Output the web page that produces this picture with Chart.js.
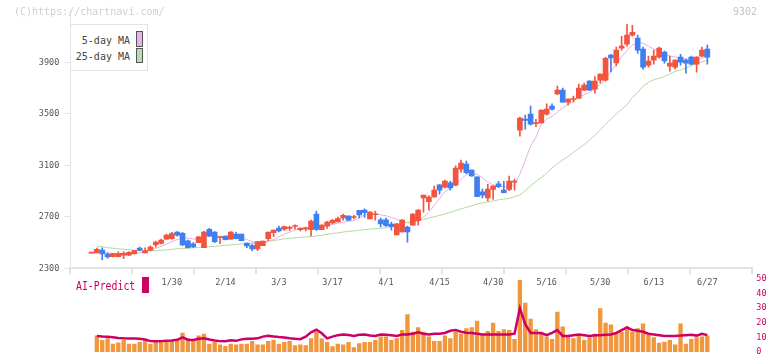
<!DOCTYPE html>
<html>
<head>
<meta charset="utf-8">
<script src="https://cdn.jsdelivr.net/npm/chart.js@4.4.1/dist/chart.umd.min.js"></script>
<style>
  html, body { margin: 0; padding: 0; background: #fff; }
  #wrap { position: relative; width: 772px; height: 361px; overflow: hidden; background: #fff; }
  canvas { position: absolute; left: 0; }
  .t { position: absolute; font-family: 'DejaVu Sans Mono', monospace; white-space: nowrap; }
</style>
</head>
<body>
<div id="wrap">
  <canvas id="main" width="772" height="300" style="top:0"></canvas>
  <canvas id="sub" width="772" height="91" style="top:270px"></canvas>
  <div class="t" style="left:14px;top:7px;font-size:10px;line-height:10px;color:#cfcfcf">(C)https://chartnavi.com/</div>
  <div class="t" style="right:15px;top:7px;font-size:10px;line-height:10px;color:#c4c4c4">9302</div>
  <div style="position:absolute;left:70px;top:24px;width:76px;height:45px;border:1px solid #e2e2e2;background:#fff"></div>
  <div class="t" style="right:642px;top:36px;font-size:10px;line-height:10px;color:#444">5-day MA</div>
  <div class="t" style="right:642px;top:51.5px;font-size:10px;line-height:10px;color:#444">25-day MA</div>
  <div style="position:absolute;left:136px;top:31px;width:5px;height:14px;border:1px solid #555;background:#e8b4e8"></div>
  <div style="position:absolute;left:136px;top:48px;width:5px;height:13px;border:1px solid #555;background:#b8dcb0"></div>
  <div class="t" style="left:75.7px;top:280.3px;font-size:12px;line-height:12px;color:#cc0066;transform:scaleX(0.82);transform-origin:left top">AI-Predict</div>
  <div style="position:absolute;left:142px;top:277px;width:7px;height:16px;background:#cc0066"></div>
</div>
<script>
// ---- data ----
const opens  = [2418,2419,2442,2411,2390,2390,2403,2403,2413,2458,2419,2440,2481,2494,2527,2530,2582,2572,2514,2491,2499,2460,2603,2582,2538,2551,2527,2566,2566,2496,2476,2450,2476,2530,2577,2613,2605,2610,2625,2600,2606,2600,2721,2600,2628,2652,2660,2691,2706,2695,2750,2753,2683,2716,2677,2677,2644,2559,2582,2621,2636,2670,2848,2817,2854,2949,2931,2965,2947,3071,3110,3063,3011,2895,2848,2913,2957,2908,2913,2970,3374,3459,3498,3425,3430,3498,3560,3656,3685,3592,3612,3623,3685,3755,3693,3762,3762,3957,3897,4011,4042,4112,4089,4004,3879,3918,3941,3980,3872,3864,3941,3918,3941,3887,3949,4004];
const highs  = [2420,2458,2460,2421,2416,2428,2429,2430,2440,2465,2460,2475,2512,2528,2566,2580,2585,2580,2520,2500,2547,2590,2610,2585,2541,2553,2585,2582,2566,2496,2489,2510,2512,2582,2600,2628,2628,2628,2638,2613,2620,2675,2745,2640,2665,2680,2698,2721,2710,2711,2750,2763,2740,2745,2691,2690,2660,2650,2678,2628,2725,2756,2869,2864,2939,2950,2985,2978,3097,3141,3133,3066,3011,2916,2952,2942,2976,2976,3017,2994,3475,3491,3560,3457,3532,3578,3578,3716,3701,3618,3638,3732,3739,3760,3790,3812,3940,3964,4019,4104,4197,4189,4112,4019,3949,3996,4019,3988,3949,3920,3964,3925,3949,3945,4019,4035];
const lows   = [2418,2419,2365,2378,2388,2388,2375,2398,2410,2435,2419,2435,2465,2490,2527,2527,2550,2475,2458,2460,2499,2460,2545,2500,2491,2520,2525,2528,2512,2460,2437,2437,2476,2514,2545,2582,2595,2595,2605,2590,2590,2551,2595,2600,2610,2645,2660,2675,2672,2683,2691,2696,2683,2675,2621,2625,2597,2559,2580,2504,2636,2636,2737,2753,2850,2877,2925,2908,2940,3048,3035,3015,2856,2848,2823,2836,2926,2885,2903,2908,3327,3382,3415,3400,3428,3490,3530,3650,3590,3568,3592,3620,3680,3680,3662,3740,3755,3827,3874,3996,4027,4104,3971,3848,3864,3887,3933,3895,3833,3848,3879,3817,3880,3825,3945,3887];
const closes = [2420,2448,2411,2388,2414,2415,2417,2424,2437,2440,2437,2465,2504,2520,2558,2569,2558,2481,2460,2468,2545,2582,2551,2507,2541,2522,2582,2530,2514,2473,2450,2507,2512,2582,2597,2590,2625,2615,2630,2613,2610,2667,2603,2636,2660,2673,2686,2711,2675,2700,2714,2732,2737,2720,2644,2631,2623,2646,2675,2582,2721,2753,2869,2854,2908,2908,2978,2924,3079,3118,3043,3019,2856,2869,2916,2939,2934,2887,2978,2975,3467,3449,3420,3430,3529,3537,3537,3685,3592,3615,3616,3701,3724,3685,3755,3809,3933,3936,3996,4027,4112,4135,3996,3864,3911,3949,4011,3911,3895,3918,3903,3895,3887,3941,3996,3941];
const ma5    = [null,null,2424,2420,2416,2414,2413,2413,2415,2420,2428,2440,2455,2470,2489,2508,2524,2535,2535,2528,2525,2535,2550,2552,2548,2545,2543,2540,2535,2525,2507,2496,2498,2507,2525,2545,2564,2582,2597,2608,2613,2617,2623,2630,2638,2642,2650,2658,2665,2672,2690,2715,2720,2720,2716,2708,2695,2680,2665,2654,2652,2668,2700,2735,2790,2840,2895,2920,2950,2990,3030,3035,3030,3005,2970,2948,2938,2934,2935,2950,3030,3140,3250,3320,3420,3460,3480,3515,3545,3575,3600,3630,3650,3665,3695,3730,3770,3830,3885,3945,3995,4035,4055,4050,4025,4005,3985,3965,3950,3942,3935,3930,3924,3925,3935,3944];
const ma25   = [null,2468,2468,2460,2456,2452,2448,2445,2440,2437,2437,2437,2437,2440,2443,2448,2452,2454,2456,2460,2462,2464,2468,2470,2474,2479,2482,2486,2489,2493,2496,2500,2504,2510,2516,2522,2529,2533,2537,2541,2543,2547,2551,2557,2563,2570,2575,2582,2587,2591,2596,2600,2605,2608,2612,2616,2625,2637,2648,2658,2664,2671,2680,2690,2701,2711,2722,2735,2748,2762,2774,2786,2800,2808,2815,2824,2832,2838,2844,2856,2869,2905,2940,2975,3005,3040,3080,3115,3141,3170,3200,3232,3262,3295,3335,3375,3420,3460,3500,3535,3570,3630,3665,3715,3745,3765,3778,3790,3812,3830,3842,3857,3875,3890,3905,3918];
const volumes = [null,11.1,7.9,9.2,5.4,6.3,7.9,5.4,5.4,6.5,7.9,5.4,6.5,7.9,7.9,7.9,7.9,12.9,9.2,7.9,11.1,12.3,5.4,6.5,4.8,3.8,5.4,4.8,5.4,5.4,7.3,4.8,4.8,7.3,8.1,5.4,6.5,7.3,4.4,4.8,4.4,9.2,13.6,9.0,6.5,3.6,5.4,4.8,6.5,2.9,5.8,6.5,6.5,7.9,10.4,10.4,7.9,9.2,14.8,25.6,13.6,16.7,13.6,10.4,7.3,7.3,11.1,9.2,13.6,12.3,16.1,16.7,21.1,11.7,14.2,19.8,14.2,15.4,14.8,8.6,49.2,33.6,22.5,15.4,12.3,10.4,8.6,27.3,17.3,10.4,9.2,11.1,7.9,9.8,12.3,29.8,19.8,18.6,12.3,13.6,17.3,13.6,16.1,19.2,11.7,9.8,6.0,6.7,7.9,4.8,19.2,5.4,8.6,9.8,10.4,11.1];
const aiPredict = [null,11.0,10.5,10.4,10.0,9.6,9.3,9.2,9.2,9.1,8.5,7.4,7.3,7.4,7.6,7.8,8.3,10.0,8.4,8.2,9.0,9.4,8.5,7.9,7.4,7.3,8.0,7.6,8.6,9.0,9.0,9.3,10.5,11.0,10.6,10.2,9.9,9.4,9.0,8.7,10.5,13.5,15.2,12.8,9.3,10.5,11.5,12.0,11.6,11.0,11.8,12.0,11.2,11.0,12.0,11.7,11.4,11.0,12.0,12.0,12.5,13.5,12.5,12.0,12.5,12.5,13.0,14.5,15.0,13.8,13.2,13.0,12.5,12.0,12.0,12.0,12.0,12.0,12.0,12.5,30.0,19.0,13.0,13.0,13.0,11.5,13.0,15.0,11.0,11.0,11.5,12.0,11.5,11.0,11.5,11.5,11.8,12.0,13.0,15.0,16.8,15.0,14.5,13.8,12.5,12.0,11.5,11.0,11.0,11.0,11.2,11.5,11.8,11.2,12.5,11.5];
const tickLabels = ['1/30','2/14','3/3','3/17','4/1','4/15','4/30','5/16','5/30','6/13','6/27'];
const tickIndex  = [15,25,35,45,55,65,75,85,95,105,115];
const priceTicks = [2300,2700,3100,3500,3900];
const aiTicks    = [0,10,20,30,40,50];

// ---- styling / layout ----
const FONT = "'DejaVu Sans Mono', monospace";
const RED = '#f2553f', BLUE = '#3f7ff0';
const X_MIN = -3.96, X_MAX = 123.4;
const AXIS = '#e2e2e2';
const candleColor = ctx => (closes[ctx.dataIndex] >= opens[ctx.dataIndex] ? RED : BLUE);
const pts = arr => arr.map((v, i) => ({ x: i, y: v }));

new Chart(document.getElementById('main'), {
  type: 'bar',
  data: {
    datasets: [
      { type: 'line', data: pts(ma5), borderColor: '#e6b0e6', borderWidth: 1, pointRadius: 0, order: 4 },
      { type: 'line', data: pts(ma25), borderColor: '#b2d9a4', borderWidth: 1, pointRadius: 0, order: 3 },
      { type: 'bar', data: lows.map((l, i) => ({ x: i, y: [l, highs[i]] })), backgroundColor: candleColor,
        barThickness: 1, grouped: false, order: 2 },
      { type: 'bar', data: opens.map((o, i) => ({ x: i, y: [o, closes[i]] })), backgroundColor: candleColor,
        barThickness: 5, minBarLength: 1, grouped: false, order: 1 }
    ]
  },
  options: {
    responsive: false, animation: false, events: [],
    layout: { padding: { left: 0, top: 11, right: 19.7, bottom: 0 } },
    plugins: { legend: { display: false }, tooltip: { enabled: false } },
    scales: {
      x: {
        type: 'linear', min: X_MIN, max: X_MAX, offset: false,
        afterFit: a => { a.height = 31.7; },
        afterBuildTicks: a => {
          const t = [];
          for (let k = 0; k <= 11; k++) t.push({ value: X_MIN + k * (X_MAX - X_MIN) / 11, isGrid: true, txt: '' });
          tickIndex.forEach((v, j) => t.push({ value: v, isGrid: false, txt: tickLabels[j] }));
          t.sort((p, q) => p.value - q.value);
          a.ticks = t;
        },
        grid: { offset: false, drawOnChartArea: false, drawTicks: true, tickLength: 6, lineWidth: 2,
                color: c => (c.tick && c.tick.isGrid) ? AXIS : 'rgba(0,0,0,0)' },
        border: { display: true, color: AXIS, width: 2 },
        ticks: { autoSkip: false, maxRotation: 0, minRotation: 0, padding: 3, color: '#555',
                 font: { family: FONT, size: 8.5 },
                 callback: (v, i, ticks) => ticks[i].txt || '' }
      },
      y: {
        min: 2300, max: 4300,
        afterFit: a => { a.width = 70.3; },
        afterBuildTicks: a => { a.ticks = priceTicks.map(v => ({ value: v })); },
        grid: { drawOnChartArea: false, drawTicks: true, tickLength: 6, color: AXIS },
        border: { display: true, color: AXIS, width: 1 },
        ticks: { padding: 5, color: '#555', font: { family: FONT, size: 8.5 }, callback: v => String(v) }
      }
    }
  }
});

new Chart(document.getElementById('sub'), {
  type: 'bar',
  data: {
    datasets: [
      { type: 'line', data: pts(aiPredict), borderColor: '#cc0066', borderWidth: 2.5, pointRadius: 0, order: 1 },
      { type: 'bar', data: pts(volumes), backgroundColor: '#f0963c', barThickness: 3.7, grouped: false, order: 2 }
    ]
  },
  options: {
    responsive: false, animation: false, events: [],
    layout: { padding: { left: 70.3, top: 7.7, right: 0, bottom: 3.3 } },
    plugins: { legend: { display: false }, tooltip: { enabled: false } },
    scales: {
      x: { type: 'linear', min: X_MIN, max: X_MAX, offset: false, grid: { offset: false }, display: false },
      y: {
        position: 'right', min: 0, max: 50,
        afterFit: a => { a.width = 19.7; },
        afterBuildTicks: a => { a.ticks = aiTicks.map(v => ({ value: v })); },
        grid: { display: false, drawTicks: false },
        border: { display: false },
        ticks: { padding: 4, color: '#cc0066', font: { family: FONT, size: 8.5 }, callback: v => String(v) }
      }
    }
  }
});
</script>
</body>
</html>
